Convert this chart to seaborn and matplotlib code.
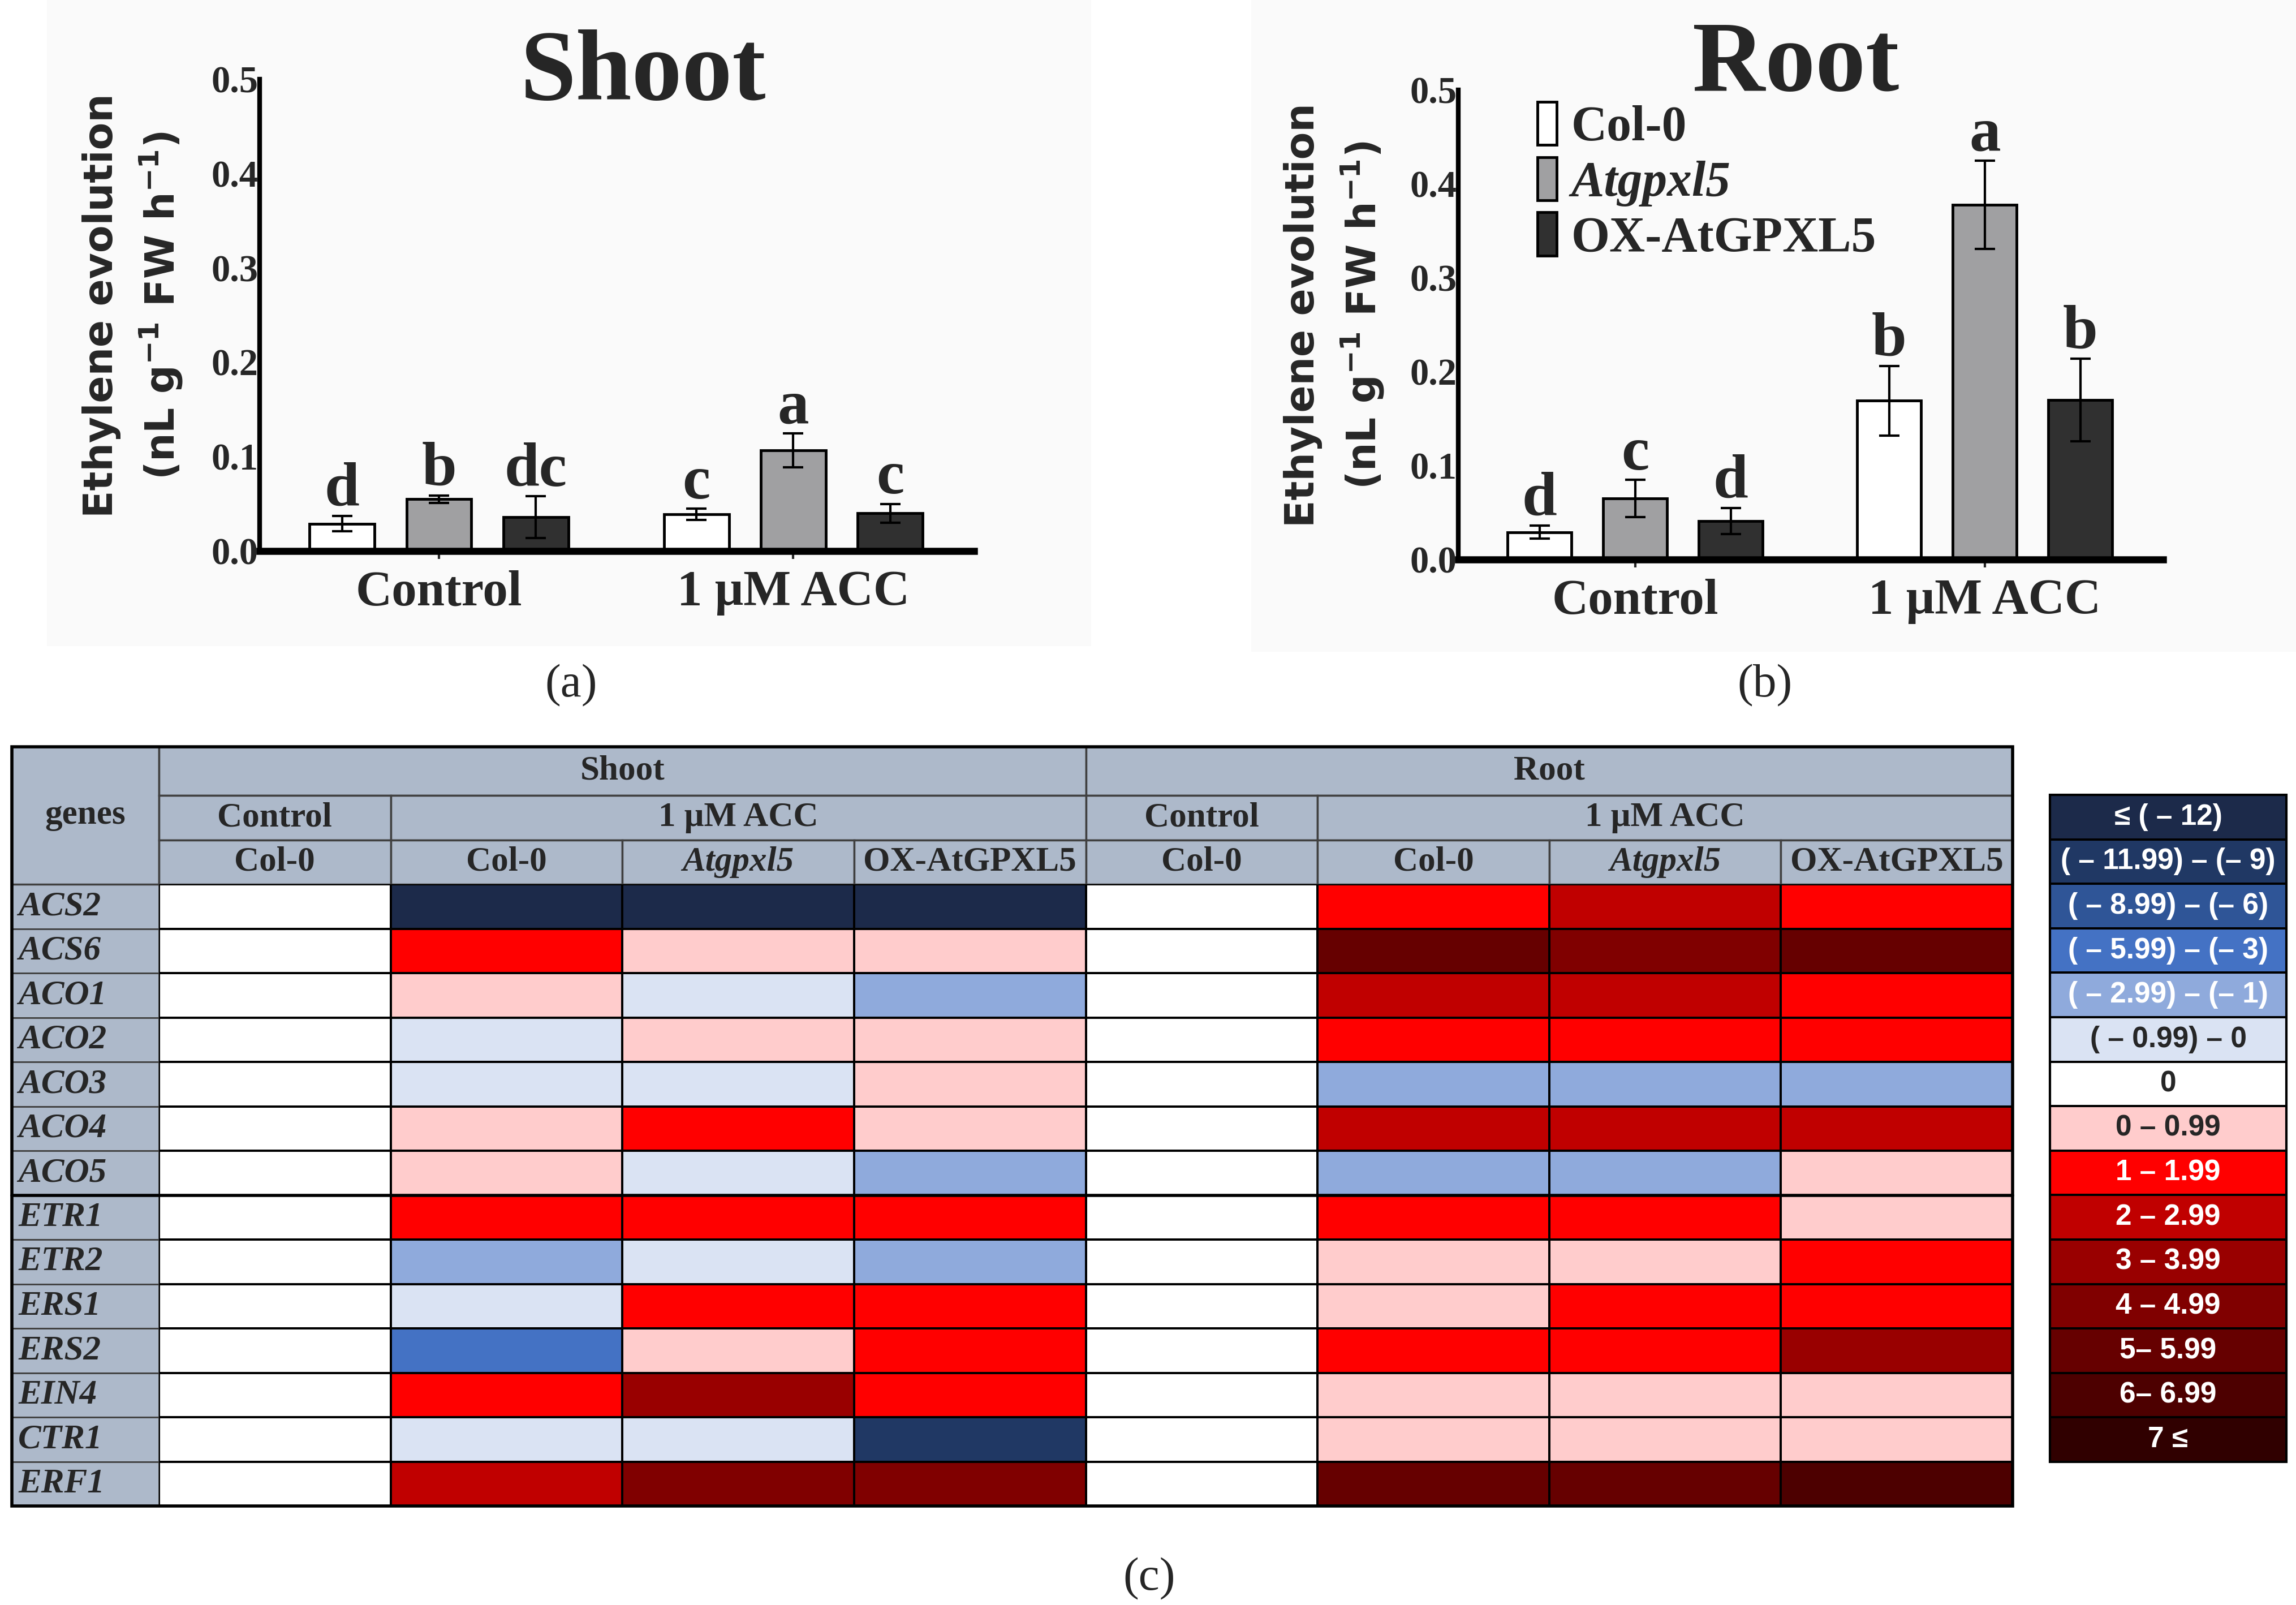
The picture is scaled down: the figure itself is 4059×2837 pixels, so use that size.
import numpy as np
import pandas as pd
import matplotlib
matplotlib.use('Agg')
import matplotlib.pyplot as plt
from matplotlib.colors import ListedColormap
from matplotlib.container import BarContainer
from matplotlib.patches import Rectangle
import seaborn as sns

# ---------------- 数据 ----------------
treatments = ['Control', '1 μM ACC']
genotypes = ['Col-0', 'Atgpxl5', 'OX-AtGPXL5']
bar_colors = ['#ffffff', '#a0a0a2', '#303030']

# (a) Shoot: 均值 / 误差 / 显著性字母 (Control 三个, ACC 三个)
shoot_control_mean = [0.029, 0.055, 0.036]
shoot_acc_mean = [0.039, 0.107, 0.040]
shoot_control_err = [0.008, 0.004, 0.022]
shoot_acc_err = [0.006, 0.018, 0.010]
shoot_letters = ['d', 'b', 'dc', 'c', 'a', 'c']

# (b) Root
root_control_mean = [0.029, 0.065, 0.041]
root_acc_mean = [0.169, 0.378, 0.170]
root_control_err = [0.007, 0.020, 0.014]
root_acc_err = [0.037, 0.047, 0.044]
root_letters = ['d', 'c', 'd', 'b', 'a', 'b']

# (c) 基因表达等级 (0..14 对应右侧图例的 15 个区间)
genes = ['ACS2', 'ACS6', 'ACO1', 'ACO2', 'ACO3', 'ACO4', 'ACO5',
         'ETR1', 'ETR2', 'ERS1', 'ERS2', 'EIN4', 'CTR1', 'ERF1']
shoot_ctrl_col0 = [6, 6, 6, 6, 6, 6, 6, 6, 6, 6, 6, 6, 6, 6]
shoot_acc_col0 = [0, 8, 7, 5, 5, 7, 7, 8, 4, 5, 3, 8, 5, 9]
shoot_acc_atgpxl5 = [0, 7, 5, 7, 5, 8, 5, 8, 5, 8, 7, 10, 5, 11]
shoot_acc_ox = [0, 7, 4, 7, 7, 7, 4, 8, 4, 8, 8, 8, 1, 11]
root_ctrl_col0 = [6, 6, 6, 6, 6, 6, 6, 6, 6, 6, 6, 6, 6, 6]
root_acc_col0 = [8, 12, 9, 8, 4, 9, 4, 8, 7, 7, 8, 7, 7, 12]
root_acc_atgpxl5 = [9, 11, 9, 8, 4, 9, 4, 8, 7, 8, 8, 7, 7, 12]
root_acc_ox = [8, 12, 8, 8, 4, 9, 7, 7, 8, 8, 10, 7, 7, 13]

level_labels = ['≤ ( – 12)', '( – 11.99) – (– 9)', '( – 8.99) – (– 6)',
                '( – 5.99) – (– 3)', '( – 2.99) – (– 1)', '( – 0.99) – 0', '0',
                '0 – 0.99', '1 – 1.99', '2 – 2.99', '3 – 3.99', '4 – 4.99',
                '5– 5.99', '6– 6.99', '7 ≤']
level_colors = ['#1c2a4a', '#203864', '#2f5597', '#4472c4', '#8faadc', '#dae3f3',
                '#ffffff', '#ffcccc', '#ff0000', '#c00000', '#990000', '#800000',
                '#660000', '#4d0000', '#300000']

# ---------------- 样式 ----------------
sns.set_style('white')
plt.rcParams['font.family'] = ['Liberation Serif', 'DejaVu Serif']
plt.rcParams['mathtext.fontset'] = 'custom'
plt.rcParams['mathtext.rm'] = 'DejaVu Sans:bold'
plt.rcParams['mathtext.it'] = 'DejaVu Sans:bold'
plt.rcParams['mathtext.bf'] = 'DejaVu Sans:bold'

W, H = 4059, 2837
fig = plt.figure(figsize=(W / 100, H / 100), dpi=100)


def rect(l, t, r, b):
    # 像素坐标 -> figure 坐标
    return [l / W, 1 - b / H, (r - l) / W, (b - t) / H]


# 两个柱状图面板的浅灰背景
for l, t, r, b in [(83, 0, 1929, 1142), (2212, 0, 4059, 1152)]:
    fig.add_artist(Rectangle((l / W, 1 - b / H), (r - l) / W, (b - t) / H,
                             transform=fig.transFigure, facecolor='#fafafa',
                             edgecolor='none', zorder=-1))


def draw_bars(ax, ctrl_mean, acc_mean, ctrl_err, acc_err, letters, label_x):
    df = pd.DataFrame({
        'treatment': [treatments[0]] * 3 + [treatments[1]] * 3,
        'genotype': genotypes * 2,
        'value': ctrl_mean + acc_mean,
        'err': ctrl_err + acc_err,
    })
    sns.barplot(data=df, x='treatment', y='value', hue='genotype',
                order=treatments, hue_order=genotypes,
                palette=dict(zip(genotypes, bar_colors)),
                edgecolor='black', linewidth=3.5, errorbar=None,
                width=0.82, gap=0.33, legend=False, ax=ax)
    bar_groups = [c for c in ax.containers if isinstance(c, BarContainer)]

    # 误差线和字母标注
    for j, container in enumerate(bar_groups):
        for i, patch in enumerate(container.patches):
            row = df[(df.treatment == treatments[i]) & (df.genotype == genotypes[j])].iloc[0]
            x = patch.get_x() + patch.get_width() / 2
            ax.errorbar(x, row.value, yerr=row.err, fmt='none', ecolor='black',
                        elinewidth=3, capsize=13, capthick=3, zorder=5)
            ax.text(x, row.value + row.err + 0.011, letters[i * 3 + j],
                    ha='center', va='baseline', fontsize=80, fontweight='bold')

    ax.set_facecolor('none')
    ax.set_xlim(-0.506, 1.51)
    ax.set_ylim(0, 0.5)
    ax.set_yticks([0, 0.1, 0.2, 0.3, 0.4, 0.5])
    ax.set_yticklabels(['0.0', '0.1', '0.2', '0.3', '0.4', '0.5'],
                       fontsize=48, fontweight='bold')
    ax.set_xticks([0, 1])
    ax.set_xticklabels(treatments, fontsize=64, fontweight='bold')
    ax.tick_params(axis='y', length=0, pad=2)
    ax.tick_params(axis='x', length=10, width=3, pad=14, direction='out',
                   bottom=True)
    ax.set_xlabel('')
    ax.set_ylabel('Ethylene evolution\n(nL g$^{-1}$ FW h$^{-1}$)', fontsize=51,
                  fontweight='bold', family='DejaVu Sans', linespacing=1.45)
    ax.yaxis.set_label_coords(label_x, 0.52)
    sns.despine(ax=ax)
    ax.spines['left'].set_linewidth(6)
    ax.spines['bottom'].set_linewidth(9)
    ax.spines['left'].set_color('black')
    ax.spines['bottom'].set_color('black')
    return bar_groups


ax_shoot = fig.add_axes(rect(459, 140, 1722, 974))
draw_bars(ax_shoot, shoot_control_mean, shoot_acc_mean, shoot_control_err,
          shoot_acc_err, shoot_letters, -0.105)

ax_root = fig.add_axes(rect(2578, 159, 3824, 989))
root_bars = draw_bars(ax_root, root_control_mean, root_acc_mean, root_control_err,
                      root_acc_err, root_letters, -0.103)

# Root 图例
leg = ax_root.legend(handles=[c.patches[0] for c in root_bars],
                     labels=genotypes, loc='upper left', bbox_to_anchor=(0.112, 0.975),
                     frameon=False, borderpad=0, borderaxespad=0,
                     handlelength=0.39, handleheight=0.97, handletextpad=0.3,
                     labelspacing=0.12, prop={'size': 63, 'weight': 'bold'})
leg.get_texts()[1].set_style('italic')

fig.text(1137 / W, 1 - 176 / H, 'Shoot', ha='center', va='baseline',
         fontsize=128, fontweight='bold')
fig.text(3175 / W, 1 - 160 / H, 'Root', ha='center', va='baseline',
         fontsize=128, fontweight='bold')

# ---------------- (c) 热图表格 ----------------
cmap = ListedColormap(level_colors)
codes = pd.DataFrame(np.column_stack([shoot_ctrl_col0, shoot_acc_col0, shoot_acc_atgpxl5,
                                      shoot_acc_ox, root_ctrl_col0, root_acc_col0,
                                      root_acc_atgpxl5, root_acc_ox]), index=genes)

ax_hm = fig.add_axes(rect(281, 1563, 3558, 2662))
sns.heatmap(codes, cmap=cmap, vmin=-0.5, vmax=14.5, cbar=False, linewidths=1.5,
            linecolor='black', xticklabels=False, yticklabels=genes, ax=ax_hm)
ax_hm.tick_params(axis='y', length=0, pad=179)
for lbl in ax_hm.get_yticklabels():
    lbl.set(rotation=0, ha='left', fontsize=44, fontweight='bold', fontstyle='italic')

hdr = '#adb9ca'
gx = -0.635  # 基因列左边界 (以列宽为单位)
for i in range(len(genes)):
    ax_hm.add_patch(Rectangle((gx, i), -gx, 1, facecolor=hdr, edgecolor='#404040',
                              lw=2, clip_on=False, zorder=0.5))

# 表头三行
header_cells = [
    (gx, -3.1, -gx, 3.1, 'genes', 'normal'),
    (0, -3.1, 4, 1.1, 'Shoot', 'normal'), (4, -3.1, 4, 1.1, 'Root', 'normal'),
    (0, -2, 1, 1, 'Control', 'normal'), (1, -2, 3, 1, '1 μM ACC', 'normal'),
    (4, -2, 1, 1, 'Control', 'normal'), (5, -2, 3, 1, '1 μM ACC', 'normal'),
]
for k in range(8):
    name = (['Col-0'] + genotypes)[k % 4]
    header_cells.append((k, -1, 1, 1, name, 'italic' if name == 'Atgpxl5' else 'normal'))
for x0, y0, w, h, txt, style in header_cells:
    ax_hm.add_patch(Rectangle((x0, y0), w, h, facecolor=hdr, edgecolor='#404040',
                              lw=2.5, clip_on=False, zorder=0.5))
    ax_hm.text(x0 + w / 2, y0 + h / 2, txt, ha='center', va='center', fontsize=44,
               fontweight='bold', fontstyle=style, clip_on=False)

# 粗分隔线与外框
ax_hm.plot([gx, 8], [7, 7], color='black', lw=4, clip_on=False, zorder=5)
ax_hm.add_patch(Rectangle((gx, -3.1), 8 - gx, 17.1, fill=False, edgecolor='black',
                          lw=4, clip_on=False, zorder=6))

# 图例色块
ax_leg = fig.add_axes(rect(3624, 1405, 4042, 2584))
sns.heatmap(np.arange(15).reshape(-1, 1), cmap=cmap, vmin=-0.5, vmax=14.5, cbar=False,
            annot=np.array(level_labels).reshape(-1, 1), fmt='', linewidths=1.5,
            linecolor='black', xticklabels=False, yticklabels=False,
            annot_kws={'fontsize': 37, 'fontweight': 'bold',
                       'family': ['Liberation Sans Narrow', 'Liberation Sans', 'DejaVu Sans']},
            ax=ax_leg)
ax_leg.add_patch(Rectangle((0, 0), 1, 15, fill=False, edgecolor='black', lw=3,
                           clip_on=False, zorder=6))

# 面板标号
fig.text(1010 / W, 1 - 1212 / H, '(a)', ha='center', va='center', fontsize=60)
fig.text(3120 / W, 1 - 1212 / H, '(b)', ha='center', va='center', fontsize=60)
fig.text(2032 / W, 1 - 2791 / H, '(c)', ha='center', va='center', fontsize=60)

fig.savefig('out.png', dpi=100, facecolor='white')
